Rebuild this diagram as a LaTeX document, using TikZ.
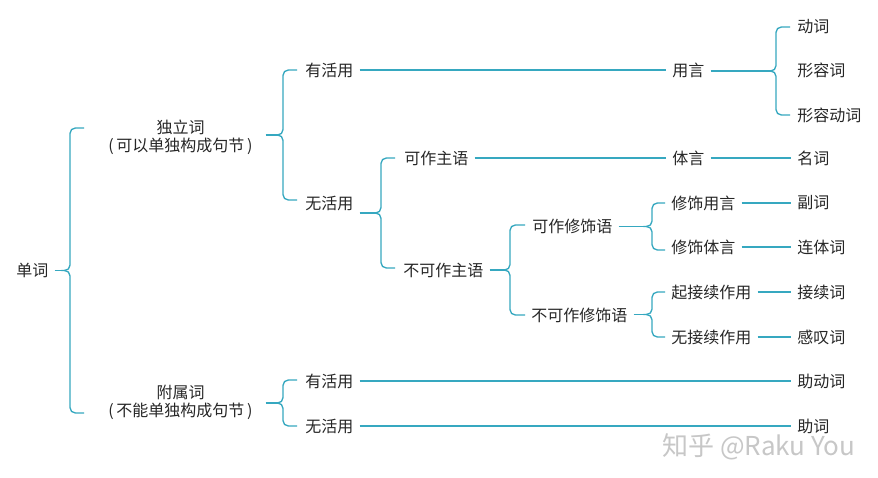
\documentclass[tikz,border=0pt]{standalone}
\usepackage{fontspec}
\setmainfont{Noto Sans CJK SC}
\usetikzlibrary{calc}
\definecolor{lineC}{HTML}{36A8C0}
\definecolor{txtC}{HTML}{262626}
\tikzset{
  lbl/.style={font=\fontsize{12pt}{13.5pt}\selectfont, text=txtC, inner xsep=4.5pt, inner ysep=2pt, anchor=west},
  two/.style={font=\fontsize{12pt}{13.5pt}\selectfont, text=txtC, inner xsep=9.5pt, inner ysep=2pt, align=center, anchor=center},
  br/.style={draw=lineC, line width=1pt, rounded corners=4},
  ln/.style={draw=lineC, line width=1pt},
}
% #1 parent, #2 brace x, #3 top y, #4 bottom y, #5 arm end x, #6 name
\newcommand{\mybrc}[6]{%
  \pgfmathsetmacro{\ym}{(#3+#4)/2}%
  \coordinate (#6) at (#2-5,\ym);
  \draw[br] (#5,#3) -- (#2,#3) -- (#2,\ym) -- (#6);
  \draw[br] (#5,#4) -- (#2,#4) -- (#2,\ym) -- (#6);
  \draw[ln] (#1.east |- #6) -- (#6);
}
\begin{document}
\begin{tikzpicture}[x=0.75pt,y=-0.75pt]
\useasboundingbox (0,0) rectangle (878,478);
\fill[white] (0,0) rectangle (878,478);
% nodes (x = text left - 6)
\node[lbl] (dan) at (10,270) {单词};
\node[two] (duli) at (180.5,137) {独立词\\(\hspace{2pt}可以单独构成句节\hspace{2pt})};
\node[two] (fushu) at (180.5,402) {附属词\\(\hspace{2pt}不能单独构成句节\hspace{2pt})};
\node[lbl] (y1) at (299,70) {有活用};
\node[lbl] (w1) at (299,203) {无活用};
\node[lbl] (yongyan) at (666,70) {用言};
\node[lbl] (dongci) at (791,27) {动词};
\node[lbl] (xingrong) at (791,70) {形容词};
\node[lbl] (xrdong) at (791,115) {形容动词};
\node[lbl] (kezhu) at (398,158) {可作主语};
\node[lbl] (tiyan) at (666,158) {体言};
\node[lbl] (mingci) at (791,158) {名词};
\node[lbl] (bukezhu) at (397,270) {不可作主语};
\node[lbl] (kexiu) at (526,226) {可作修饰语};
\node[lbl] (bukexiu) at (525,315) {不可作修饰语};
\node[lbl] (xy) at (665,203) {修饰用言};
\node[lbl] (fuci) at (791,203) {副词};
\node[lbl] (xt) at (665,247) {修饰体言};
\node[lbl] (lianti) at (791,247) {连体词};
\node[lbl] (qj) at (665,292) {起接续作用};
\node[lbl] (jiexu) at (791,292) {接续词};
\node[lbl] (wj) at (665,337) {无接续作用};
\node[lbl] (gantan) at (791,337) {感叹词};
\node[lbl] (y2) at (299,381) {有活用};
\node[lbl] (zhudong) at (791,381) {助动词};
\node[lbl] (w2) at (299,426) {无活用};
\node[lbl] (zhuci) at (791,426) {助词};
% braces
\mybrc{dan}{70}{128}{413}{84}{m0}
\mybrc{duli}{283}{70}{200}{297}{m1}
\mybrc{yongyan}{776}{27}{115}{790}{m2}
\mybrc{w1}{381}{158}{268}{395}{m3}
\mybrc{bukezhu}{510}{225}{315}{525}{m4}
\mybrc{kexiu}{652}{203}{250}{665}{m5}
\mybrc{bukexiu}{652}{292}{337}{665}{m6}
\mybrc{fushu}{283}{380}{426}{297}{m7}
% straight connectors
\draw[ln] (y1) -- (yongyan);
\draw[ln] (kezhu) -- (tiyan);
\draw[ln] (tiyan) -- (mingci);
\draw[ln] (xy) -- (fuci);
\draw[ln] (xt) -- (lianti);
\draw[ln] (qj) -- (jiexu);
\draw[ln] (wj) -- (gantan);
\draw[ln] (y2) -- (zhudong);
\draw[ln] (w2) -- (zhuci);
% watermark
\node[anchor=west, inner sep=0pt, text=black!22, font=\fontsize{19.5pt}{21pt}\selectfont] (wm) at (662,447) {知乎 @Raku You};
\end{tikzpicture}
\end{document}
